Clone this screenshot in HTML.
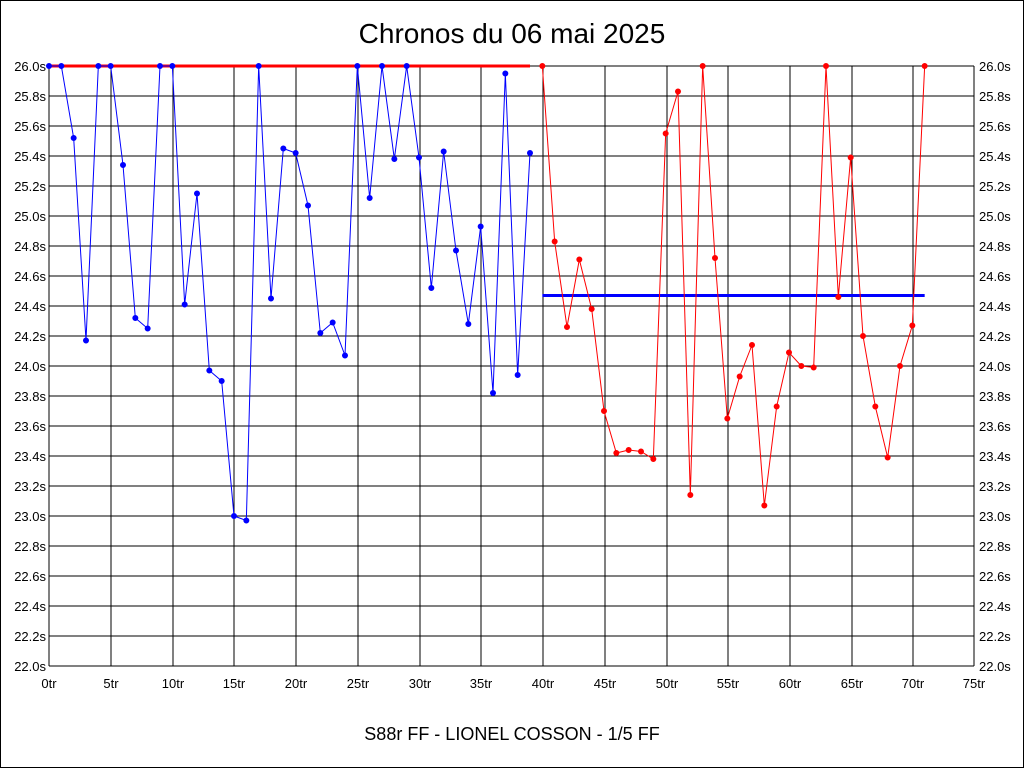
<!DOCTYPE html>
<html><head><meta charset="utf-8"><style>
html,body{margin:0;padding:0;background:#fff}
svg{display:block;font-family:"Liberation Sans",sans-serif}
</style></head><body>
<svg width="1024" height="768" viewBox="0 0 1024 768" xmlns="http://www.w3.org/2000/svg">
<rect x="0.5" y="0.5" width="1023" height="767" fill="#fff" stroke="#000"/>
<text x="512" y="43" font-size="28" text-anchor="middle">Chronos du 06 mai 2025</text>
<text x="512" y="740" font-size="18" text-anchor="middle">S88r FF - LIONEL COSSON - 1/5 FF</text>
<g stroke="#000" stroke-width="1" shape-rendering="crispEdges">
<path d="M49,66H974M49,96H974M49,126H974M49,156H974M49,186H974M49,216H974M49,246H974M49,276H974M49,306H974M49,336H974M49,366H974M49,396H974M49,426H974M49,456H974M49,486H974M49,516H974M49,546H974M49,576H974M49,606H974M49,636H974M49,666H974"/>
<path d="M49,66V666M111,66V666M173,66V666M234,66V666M296,66V666M358,66V666M420,66V666M481,66V666M543,66V666M605,66V666M667,66V666M728,66V666M790,66V666M852,66V666M913,66V666M974,66V666"/>
</g>
<g font-size="13" text-anchor="end">
<text x="46" y="71">26.0s</text><text x="46" y="101">25.8s</text><text x="46" y="131">25.6s</text><text x="46" y="161">25.4s</text><text x="46" y="191">25.2s</text><text x="46" y="221">25.0s</text><text x="46" y="251">24.8s</text><text x="46" y="281">24.6s</text><text x="46" y="311">24.4s</text><text x="46" y="341">24.2s</text><text x="46" y="371">24.0s</text><text x="46" y="401">23.8s</text><text x="46" y="431">23.6s</text><text x="46" y="461">23.4s</text><text x="46" y="491">23.2s</text><text x="46" y="521">23.0s</text><text x="46" y="551">22.8s</text><text x="46" y="581">22.6s</text><text x="46" y="611">22.4s</text><text x="46" y="641">22.2s</text><text x="46" y="671">22.0s</text>
</g>
<g font-size="13" text-anchor="start">
<text x="979" y="71">26.0s</text><text x="979" y="101">25.8s</text><text x="979" y="131">25.6s</text><text x="979" y="161">25.4s</text><text x="979" y="191">25.2s</text><text x="979" y="221">25.0s</text><text x="979" y="251">24.8s</text><text x="979" y="281">24.6s</text><text x="979" y="311">24.4s</text><text x="979" y="341">24.2s</text><text x="979" y="371">24.0s</text><text x="979" y="401">23.8s</text><text x="979" y="431">23.6s</text><text x="979" y="461">23.4s</text><text x="979" y="491">23.2s</text><text x="979" y="521">23.0s</text><text x="979" y="551">22.8s</text><text x="979" y="581">22.6s</text><text x="979" y="611">22.4s</text><text x="979" y="641">22.2s</text><text x="979" y="671">22.0s</text>
</g>
<g font-size="13" text-anchor="middle">
<text x="49" y="688">0tr</text><text x="111" y="688">5tr</text><text x="173" y="688">10tr</text><text x="234" y="688">15tr</text><text x="296" y="688">20tr</text><text x="358" y="688">25tr</text><text x="420" y="688">30tr</text><text x="481" y="688">35tr</text><text x="543" y="688">40tr</text><text x="605" y="688">45tr</text><text x="667" y="688">50tr</text><text x="728" y="688">55tr</text><text x="790" y="688">60tr</text><text x="852" y="688">65tr</text><text x="913" y="688">70tr</text><text x="974" y="688">75tr</text>
</g>
<g transform="matrix(12.3333,0,0,-150,49,3966)" fill="none">
<path d="M0,26H39" stroke="#f00" stroke-width="3" vector-effect="non-scaling-stroke"/>
<path d="M40,24.47H71" stroke="#00f" stroke-width="3" vector-effect="non-scaling-stroke"/>
<polyline stroke="#00f" stroke-width="1" vector-effect="non-scaling-stroke" points="0,26 1,26 2,25.52 3,24.17 4,26 5,26 6,25.34 7,24.32 8,24.25 9,26 10,26 11,24.41 12,25.15 13,23.97 14,23.9 15,23 16,22.97 17,26 18,24.45 19,25.45 20,25.42 21,25.07 22,24.22 23,24.29 24,24.07 25,26 26,25.12 27,26 28,25.38 29,26 30,25.39 31,24.52 32,25.43 33,24.77 34,24.28 35,24.93 36,23.82 37,25.95 38,23.94 39,25.42"/>
<path stroke="#00f" stroke-width="6" stroke-linecap="round" vector-effect="non-scaling-stroke" d="M0,26h0M1,26h0M2,25.52h0M3,24.17h0M4,26h0M5,26h0M6,25.34h0M7,24.32h0M8,24.25h0M9,26h0M10,26h0M11,24.41h0M12,25.15h0M13,23.97h0M14,23.9h0M15,23h0M16,22.97h0M17,26h0M18,24.45h0M19,25.45h0M20,25.42h0M21,25.07h0M22,24.22h0M23,24.29h0M24,24.07h0M25,26h0M26,25.12h0M27,26h0M28,25.38h0M29,26h0M30,25.39h0M31,24.52h0M32,25.43h0M33,24.77h0M34,24.28h0M35,24.93h0M36,23.82h0M37,25.95h0M38,23.94h0M39,25.42h0"/>
<polyline stroke="#f00" stroke-width="1" vector-effect="non-scaling-stroke" points="40,26 41,24.83 42,24.26 43,24.71 44,24.38 45,23.7 46,23.42 47,23.44 48,23.43 49,23.38 50,25.55 51,25.83 52,23.14 53,26 54,24.72 55,23.65 56,23.93 57,24.14 58,23.07 59,23.73 60,24.09 61,24 62,23.99 63,26 64,24.46 65,25.39 66,24.2 67,23.73 68,23.39 69,24 70,24.27 71,26"/>
<path stroke="#f00" stroke-width="6" stroke-linecap="round" vector-effect="non-scaling-stroke" d="M40,26h0M41,24.83h0M42,24.26h0M43,24.71h0M44,24.38h0M45,23.7h0M46,23.42h0M47,23.44h0M48,23.43h0M49,23.38h0M50,25.55h0M51,25.83h0M52,23.14h0M53,26h0M54,24.72h0M55,23.65h0M56,23.93h0M57,24.14h0M58,23.07h0M59,23.73h0M60,24.09h0M61,24h0M62,23.99h0M63,26h0M64,24.46h0M65,25.39h0M66,24.2h0M67,23.73h0M68,23.39h0M69,24h0M70,24.27h0M71,26h0"/>
</g>
</svg>
</body></html>
